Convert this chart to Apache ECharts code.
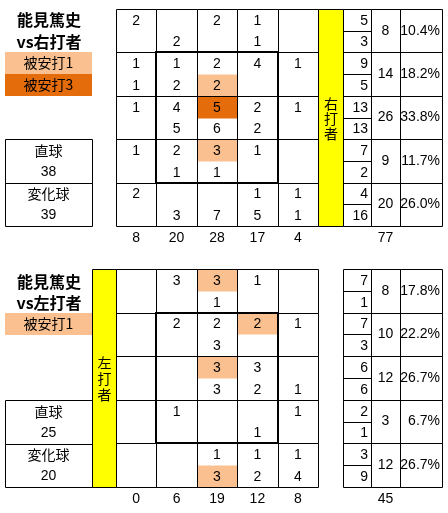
<!DOCTYPE html>
<html><head><meta charset="utf-8">
<script src="https://cdn.jsdelivr.net/npm/echarts@6/dist/echarts.min.js"></script>
<style>html,body{margin:0;padding:0;background:#fff}#c{width:448px;height:513px}</style>
</head><body><div id="c"></div>
<script>
// ---------- DATA ----------
const pitcher = '能見篤史';
const zoneCols = ['c0','c1','c2','c3','c4'];
const zoneRows = ['r0','r1','r2','r3','r4'];
const zoneSubRows = ['r0a','r0b','r1a','r1b','r2a','r2b','r3a','r3b','r4a','r4b'];
const legendLabels = ['被安打1','被安打3'];
const pitchTypes = ['直球','変化球'];

// vs right-handed batters: 10 sub-rows x 5 columns
const rhTitle = 'vs右打者';
const rhSide = '右打者';
const rhValues = [
  [2, null, 2, 1, null],
  [null, 2, null, 1, null],
  [1, 1, 2, 4, 1],
  [1, 2, 2, null, null],
  [1, 4, 5, 2, 1],
  [null, 5, 6, 2, null],
  [1, 2, 3, 1, null],
  [null, 1, 1, null, null],
  [2, null, null, 1, 1],
  [null, 3, 7, 5, 1]
];
const rhHits = [[2, 3, 1], [2, 4, 3], [2, 6, 1]]; // [column, sub-row, hits]
const rhColTotals = [8, 20, 28, 17, 4];
const rhSplitTop = [5, 9, 13, 7, 4];
const rhSplitBottom = [3, 5, 13, 2, 16];
const rhRowTotals = [8, 14, 26, 9, 20];
const rhRowPct = [10.4, 18.2, 33.8, 11.7, 26.0];
const rhGrandTotal = 77;
const rhPitchCounts = [38, 39];
const rhLegendLevels = [1, 3];

// vs left-handed batters
const lhTitle = 'vs左打者';
const lhSide = '左打者';
const lhValues = [
  [null, 3, 3, 1, null],
  [null, null, 1, null, null],
  [null, 2, 2, 2, 1],
  [null, null, 3, null, null],
  [null, null, 3, 3, null],
  [null, null, 3, 2, 1],
  [null, 1, null, null, 1],
  [null, null, null, 1, null],
  [null, null, 1, 1, 1],
  [null, null, 3, 2, 4]
];
const lhHits = [[2, 0, 1], [3, 2, 1], [2, 4, 1], [2, 9, 1]];
const lhColTotals = [0, 6, 19, 12, 8];
const lhSplitTop = [7, 7, 6, 2, 3];
const lhSplitBottom = [1, 3, 6, 1, 9];
const lhRowTotals = [8, 10, 12, 3, 12];
const lhRowPct = [17.8, 22.2, 26.7, 6.7, 26.7];
const lhGrandTotal = 45;
const lhPitchCounts = [25, 20];
const lhLegendLevels = [1];

// ---------- STYLE / LAYOUT ----------
const NUM_FONT = "'Liberation Sans Narrow','Arial Narrow','Liberation Sans','Noto Sans CJK JP',sans-serif";
const JP_FONT = "'Noto Sans CJK JP',sans-serif";
const HIT_COLORS = {1: '#FAC090', 3: '#E46C0A'};
const YELLOW = '#FFFF00';

const layouts = [
  {top: 9, h: 217, yellowX: 318, yellowW: 25, pitchTop: 139, pitchH: 87, titleY: [20, 42], legendTop: 52, sideLH: 15},
  {top: 269, h: 218, yellowX: 92, yellowW: 24, pitchTop: 400, pitchH: 87, titleY: [282, 303], legendTop: 313, sideLH: 16}
];
const X = {main: 116, mainW: 202, split: 343, splitW: 28, total: 371, totalW: 29, pct: 400, pctW: 42, pitch: 5, pitchW: 87};

const charts = [
  {title: rhTitle, side: rhSide, values: rhValues, hits: rhHits, colTotals: rhColTotals, splitTop: rhSplitTop,
   splitBottom: rhSplitBottom, rowTotals: rhRowTotals, rowPct: rhRowPct, grand: rhGrandTotal, pitchCounts: rhPitchCounts, legend: rhLegendLevels},
  {title: lhTitle, side: lhSide, values: lhValues, hits: lhHits, colTotals: lhColTotals, splitTop: lhSplitTop,
   splitBottom: lhSplitBottom, rowTotals: lhRowTotals, rowPct: lhRowPct, grand: lhGrandTotal, pitchCounts: lhPitchCounts, legend: lhLegendLevels}
];

// ---------- HELPERS ----------
function crisp(x0, y0, x1, y1) {
  const a = Math.round(x0) + 0.5, b = Math.round(y0) + 0.5, c = Math.round(x1) + 0.5, d = Math.round(y1) + 0.5;
  return {x: a, y: b, width: c - a, height: d - b};
}
function fillRect(x0, y0, x1, y1) {
  const a = Math.round(x0), b = Math.round(y0), c = Math.round(x1), d = Math.round(y1);
  return {x: a + 0.5, y: b + 0.5, width: c - a, height: d - b};
}
function txt(text, x, y, align, font) {
  return {type: 'text', style: {text: String(text), x: x, y: y, align: align, textAlign: align,
    verticalAlign: 'middle', textVerticalAlign: 'middle', font: font, fill: '#000'}};
}
function catAxis(gi, data, extra) {
  return Object.assign({type: 'category', gridIndex: gi, data: data, boundaryGap: true,
    axisLine: {show: false}, axisTick: {show: false}, splitLine: {show: false}, axisLabel: {show: false}}, extra || {});
}
function cellBox(api, col, row, span) {
  const c = api.coord([col, row]);
  const s = api.size([1, 1]);
  return [c[0] - s[0] / 2, c[1] - s[1] / 2, c[0] + s[0] / 2, c[1] - s[1] / 2 + s[1] * span];
}
function borderRect(b) {
  return {type: 'rect', shape: crisp(b[0], b[1], b[2], b[3]), style: {fill: 'none', stroke: '#000', lineWidth: 1}};
}
const NUM = '14px ' + NUM_FONT;

const grid = [], xAxis = [], yAxis = [], series = [], graphic = [];

charts.forEach(function (cfg, k) {
  const L = layouts[k];
  const g0 = grid.length;
  const gMain = g0, gSplit = g0 + 1, gTotal = g0 + 2, gPct = g0 + 3, gPitch = g0 + 4;
  grid.push({left: X.main, top: L.top, width: X.mainW, height: L.h});
  grid.push({left: X.split, top: L.top, width: X.splitW, height: L.h});
  grid.push({left: X.total, top: L.top, width: X.totalW, height: L.h});
  grid.push({left: X.pct, top: L.top, width: X.pctW, height: L.h});
  grid.push({left: X.pitch, top: L.pitchTop, width: X.pitchW, height: L.pitchH});

  const labelStyle = {show: true, margin: 5, fontSize: 14, fontFamily: NUM_FONT, color: '#000'};
  xAxis.push(catAxis(gMain, zoneCols, {axisLabel: Object.assign({}, labelStyle, {formatter: function (v, i) { return String(cfg.colTotals[i]); }})}));
  yAxis.push(catAxis(gMain, zoneSubRows, {inverse: true}));
  xAxis.push(catAxis(gSplit, ['split']));
  yAxis.push(catAxis(gSplit, zoneSubRows, {inverse: true}));
  xAxis.push(catAxis(gTotal, ['total'], {axisLabel: Object.assign({}, labelStyle, {formatter: function () { return String(cfg.grand); }})}));
  yAxis.push(catAxis(gTotal, zoneRows, {inverse: true}));
  xAxis.push(catAxis(gPct, ['pct']));
  yAxis.push(catAxis(gPct, zoneRows, {inverse: true}));
  xAxis.push(catAxis(gPitch, ['pitch']));
  yAxis.push(catAxis(gPitch, pitchTypes, {inverse: true}));

  const ax = function (gi) { return {xAxisIndex: gi, yAxisIndex: gi}; };

  // hit highlight fills
  series.push(Object.assign({type: 'custom', silent: true, z: 1, data: cfg.hits,
    renderItem: function (p, api) {
      const b = cellBox(api, api.value(0), api.value(1), 1);
      return {type: 'rect', shape: fillRect(b[0], b[1], b[2], b[3]), style: {fill: HIT_COLORS[api.value(2)]}};
    }}, ax(gMain)));

  // cell borders (5x5)
  const cells = [];
  zoneRows.forEach(function (r, ri) { zoneCols.forEach(function (c, ci) { cells.push([ci, ri * 2]); }); });
  series.push(Object.assign({type: 'custom', silent: true, z: 2, data: cells,
    renderItem: function (p, api) { return borderRect(cellBox(api, api.value(0), api.value(1), 2)); }}, ax(gMain)));

  // strike zone (columns 1-3, rows 1-3)
  series.push(Object.assign({type: 'custom', silent: true, z: 3, data: [[1, 2, 3, 7]],
    renderItem: function (p, api) {
      const a = cellBox(api, api.value(0), api.value(1), 1);
      const b = cellBox(api, api.value(2), api.value(3), 1);
      const x0 = Math.round(a[0]), y0 = Math.round(a[1]), x1 = Math.round(b[2]), y1 = Math.round(b[3]);
      return {type: 'rect', shape: {x: x0, y: y0, width: x1 - x0, height: y1 - y0}, style: {fill: 'none', stroke: '#000', lineWidth: 2}};
    }}, ax(gMain)));

  // numbers in the zone grid
  const nums = [];
  cfg.values.forEach(function (row, si) { row.forEach(function (v, ci) { if (v !== null) nums.push([ci, si, v]); }); });
  series.push(Object.assign({type: 'custom', silent: true, z: 4, data: nums,
    renderItem: function (p, api) {
      const c = api.coord([api.value(0), api.value(1)]);
      return txt(api.value(2), c[0], c[1] + 1, 'center', NUM);
    }}, ax(gMain)));

  // split column (top / bottom per row)
  const split = [];
  zoneRows.forEach(function (r, i) { split.push([0, 2 * i, cfg.splitTop[i]]); split.push([0, 2 * i + 1, cfg.splitBottom[i]]); });
  series.push(Object.assign({type: 'custom', silent: true, z: 4, data: split,
    renderItem: function (p, api) {
      const b = cellBox(api, api.value(0), api.value(1), 1);
      const c = api.coord([api.value(0), api.value(1)]);
      return {type: 'group', children: [borderRect(b), txt(api.value(2), b[2] - 3, c[1] + 1, 'right', NUM)]};
    }}, ax(gSplit)));

  // row totals
  series.push(Object.assign({type: 'custom', silent: true, z: 4, data: cfg.rowTotals.map(function (v, i) { return [0, i, v]; }),
    renderItem: function (p, api) {
      const b = cellBox(api, api.value(0), api.value(1), 1);
      const c = api.coord([api.value(0), api.value(1)]);
      return {type: 'group', children: [borderRect(b), txt(api.value(2), c[0], c[1], 'center', NUM)]};
    }}, ax(gTotal)));

  // row percentages
  series.push(Object.assign({type: 'custom', silent: true, z: 4, data: cfg.rowPct.map(function (v, i) { return [0, i, v]; }),
    renderItem: function (p, api) {
      const b = cellBox(api, api.value(0), api.value(1), 1);
      const c = api.coord([api.value(0), api.value(1)]);
      return {type: 'group', children: [borderRect(b), txt(api.value(2).toFixed(1) + '%', b[2] - 2, c[1], 'right', NUM)]};
    }}, ax(gPct)));

  // pitch type boxes
  series.push(Object.assign({type: 'custom', silent: true, z: 4, data: cfg.pitchCounts.map(function (v, i) { return [0, i, v]; }),
    renderItem: function (p, api) {
      const b = cellBox(api, api.value(0), api.value(1), 1);
      const c = api.coord([api.value(0), api.value(1)]);
      const hh = (b[3] - b[1]) / 4;
      return {type: 'group', children: [borderRect(b),
        txt(pitchTypes[api.value(1)], c[0], b[1] + hh + 0.5, 'center', '14px ' + JP_FONT),
        txt(api.value(2), c[0], b[1] + 3 * hh + 0.5, 'center', NUM)]};
    }}, ax(gPitch)));

  // decorations: title, legend, side bar
  graphic.push({type: 'text', style: {text: pitcher, x: 49, y: L.titleY[0], align: 'center', textAlign: 'center', verticalAlign: 'middle', textVerticalAlign: 'middle', font: 'bold 16px ' + JP_FONT, fill: '#000'}});
  graphic.push({type: 'text', style: {text: cfg.title, x: 49, y: L.titleY[1], align: 'center', textAlign: 'center', verticalAlign: 'middle', textVerticalAlign: 'middle', font: 'bold 16px ' + JP_FONT, fill: '#000'}});
  cfg.legend.forEach(function (lv, i) {
    const y = L.legendTop + i * 22;
    graphic.push({type: 'rect', shape: {x: 5, y: y, width: 87, height: 22}, style: {fill: HIT_COLORS[lv]}});
    graphic.push({type: 'text', style: {text: legendLabels[lv === 1 ? 0 : 1], x: 48.5, y: y + 11, align: 'center', textAlign: 'center', verticalAlign: 'middle', textVerticalAlign: 'middle', font: '14px ' + JP_FONT, fill: '#000'}});
  });
  graphic.push({type: 'rect', shape: {x: L.yellowX + 0.5, y: L.top + 0.5, width: L.yellowW, height: L.h}, style: {fill: YELLOW, stroke: '#000', lineWidth: 1}});
  graphic.push({type: 'text', style: {text: cfg.side.split('').join('\n'), x: L.yellowX + L.yellowW / 2 + 0.5, y: L.top + L.h / 2 + 1, align: 'center', textAlign: 'center', verticalAlign: 'middle', textVerticalAlign: 'middle', font: '14px ' + JP_FONT, lineHeight: L.sideLH, fill: '#000'}});
});

const chart = echarts.init(document.getElementById('c'), null, {renderer: 'canvas'});
chart.setOption({animation: false, backgroundColor: '#fff', grid: grid, xAxis: xAxis, yAxis: yAxis, series: series, graphic: {elements: graphic}});
</script>
</body></html>
